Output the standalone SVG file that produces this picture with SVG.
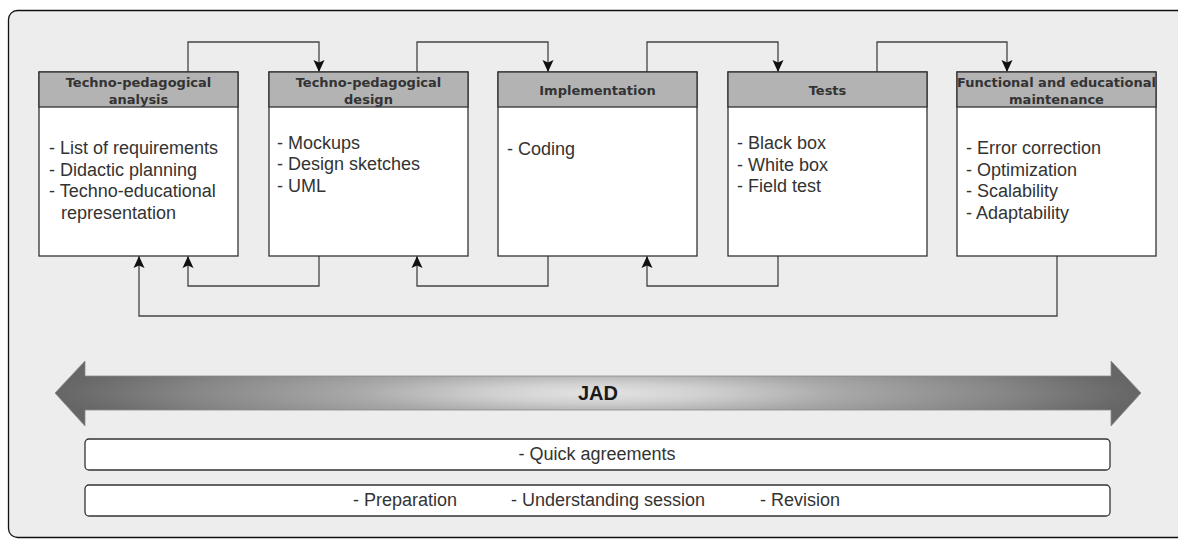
<svg xmlns="http://www.w3.org/2000/svg" width="1178" height="539" viewBox="0 0 1178 539">
<defs>
<style>
.box{fill:#ffffff;stroke:#333333;stroke-width:1.3}
.hdr{fill:#b3b3b3;stroke:#333333;stroke-width:1.3}
.ht{font-family:"DejaVu Sans",Verdana,sans-serif;font-weight:bold;font-size:13px;fill:#333333;text-anchor:middle}
.bt{font-family:"Liberation Sans",Arial,sans-serif;font-size:18px;fill:#333333}
.con{fill:none;stroke:#444444;stroke-width:1.3}
.bar{fill:#ffffff;stroke:#333333;stroke-width:1.3}
</style>
<marker id="arr" viewBox="0 0 12 12" refX="12" refY="6" markerWidth="12" markerHeight="12" markerUnits="userSpaceOnUse" orient="auto">
<path d="M0,0.5 L12,6 L0,11.5 L2.5,6 Z" fill="#111111"/>
</marker>
<radialGradient id="jadR" gradientUnits="userSpaceOnUse" cx="0" cy="0" r="543" gradientTransform="translate(598 393) scale(1 0.09)">
<stop offset="0" stop-color="#e4e4e4"/>
<stop offset="0.2" stop-color="#d0d0d0"/>
<stop offset="0.45" stop-color="#a8a8a8"/>
<stop offset="0.75" stop-color="#868686"/>
<stop offset="0.95" stop-color="#6b6b6b"/>
<stop offset="1" stop-color="#666666"/>
</radialGradient>
</defs>

<rect id="container" x="8.5" y="10.5" width="1200" height="527" rx="9" ry="9" fill="#ededed" stroke="#111111" stroke-width="1.3"/>

<g id="connectors">
<path class="con" d="M188,72 V42 H319 V72" marker-end="url(#arr)"/>
<path class="con" d="M417,72 V42 H548 V72" marker-end="url(#arr)"/>
<path class="con" d="M647,72 V42 H778 V72" marker-end="url(#arr)"/>
<path class="con" d="M877,72 V42 H1007 V72" marker-end="url(#arr)"/>
<path class="con" d="M319,256 V286 H188 V256" marker-end="url(#arr)"/>
<path class="con" d="M548,256 V286 H417 V256" marker-end="url(#arr)"/>
<path class="con" d="M778,256 V286 H647 V256" marker-end="url(#arr)"/>
<path class="con" d="M1057,256 V316 H139 V256" marker-end="url(#arr)"/>
</g>

<g id="node-analysis">
<rect class="box" x="39" y="72" width="199" height="184"/>
<rect class="hdr" x="39" y="72" width="199" height="35"/>
<text class="ht" x="138.5" y="86.5">Techno-pedagogical</text>
<text class="ht" x="138.5" y="103.5">analysis</text>
<text class="bt" x="49" y="154">- List of requirements</text>
<text class="bt" x="49" y="175.5">- Didactic planning</text>
<text class="bt" x="49" y="197">- Techno-educational</text>
<text class="bt" x="61" y="218.5">representation</text>
</g>

<g id="node-design">
<rect class="box" x="269" y="72" width="199" height="184"/>
<rect class="hdr" x="269" y="72" width="199" height="35"/>
<text class="ht" x="368.5" y="86.5">Techno-pedagogical</text>
<text class="ht" x="368.5" y="103.5">design</text>
<text class="bt" x="277" y="148.5">- Mockups</text>
<text class="bt" x="277" y="170">- Design sketches</text>
<text class="bt" x="277" y="191.5">- UML</text>
</g>

<g id="node-implementation">
<rect class="box" x="498" y="72" width="199" height="184"/>
<rect class="hdr" x="498" y="72" width="199" height="35"/>
<text class="ht" x="597.5" y="94.5">Implementation</text>
<text class="bt" x="507" y="155">- Coding</text>
</g>

<g id="node-tests">
<rect class="box" x="728" y="72" width="199" height="184"/>
<rect class="hdr" x="728" y="72" width="199" height="35"/>
<text class="ht" x="827.5" y="94.5">Tests</text>
<text class="bt" x="737" y="149">- Black box</text>
<text class="bt" x="737" y="170.5">- White box</text>
<text class="bt" x="737" y="192">- Field test</text>
</g>

<g id="node-maintenance">
<rect class="box" x="957" y="72" width="199" height="184"/>
<rect class="hdr" x="957" y="72" width="199" height="35"/>
<text class="ht" x="1056.5" y="86.5">Functional and educational</text>
<text class="ht" x="1056.5" y="103.5">maintenance</text>
<text class="bt" x="966" y="154">- Error correction</text>
<text class="bt" x="966" y="175.5">- Optimization</text>
<text class="bt" x="966" y="197">- Scalability</text>
<text class="bt" x="966" y="218.5">- Adaptability</text>
</g>

<g id="jad-arrow">
<path d="M55,393 L85,361 V376 H1111 V361 L1141,393 L1111,426 V410 H85 V426 Z" fill="url(#jadR)" stroke="#8a8a8a" stroke-width="0.8"/>
<text x="598" y="400" font-family="'Liberation Sans',Arial,sans-serif" font-weight="bold" font-size="20" fill="#1a1a1a" text-anchor="middle">JAD</text>
</g>

<g id="bar-agreements">
<rect class="bar" x="85" y="439" width="1025" height="31" rx="4" ry="4"/>
<text class="bt" x="597" y="460" text-anchor="middle">- Quick agreements</text>
</g>

<g id="bar-session">
<rect class="bar" x="85" y="485" width="1025" height="31" rx="4" ry="4"/>
<text class="bt" y="506"><tspan x="353">- Preparation</tspan><tspan x="511">- Understanding session</tspan><tspan x="760">- Revision</tspan></text>
</g>
</svg>
